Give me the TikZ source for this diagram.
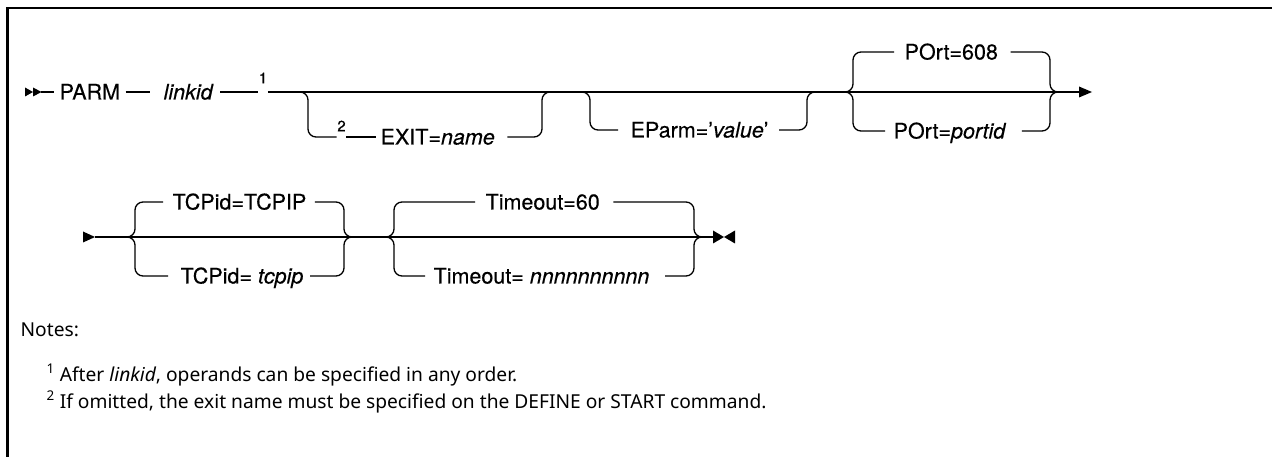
\documentclass[tikz,border=0pt]{standalone}
\usepackage{fontspec}
\setmainfont{TeX Gyre Heros}[FakeBold=0.4]
\newfontfamily\notefont{Noto Sans}
\usetikzlibrary{calc}
\begin{document}
\begin{tikzpicture}[x=1pt,y=-1pt,line width=1.3pt,
  txt/.style={inner sep=0pt,text height=15pt,text depth=0pt,anchor=west,font=\fontsize{21.5}{25}\selectfont},
  supn/.style={inner sep=0pt,anchor=center,font=\fontsize{15}{17}\selectfont},
  note/.style={inner sep=0pt,anchor=west,font=\notefont\fontsize{19.2}{23}\selectfont},
  rail/.style={line width=1.3pt,rounded corners=8pt},
  frameline/.style={line width=2.6pt}]
\useasboundingbox (0,0) rectangle (1272,457);
% frame
\coordinate (fA) at (7.5,457);
\coordinate (fB) at (7.5,8);
\coordinate (fC) at (1272,8);
\draw[frameline] (fA) -- (fB) -- (fC);

% ---------- row 1 ----------
\fill (25,87.5) -- (33,92) -- (25,96.5) -- cycle;
\fill (33,87.5) -- (41.5,92) -- (33,96.5) -- cycle;
\node[txt] (parm) at (59,92) {PARM};
\node[txt] (linkid) at (163,92) {\itshape linkid};
\node[supn] (n1) at (263,78) {1};
\draw (41,92) -- ([xshift=-5pt]parm.west);
\draw ([xshift=5pt]parm.east) -- ([xshift=-13pt]linkid.west);
\draw ([xshift=7pt]linkid.east) -- (n1.west |- linkid.west);
\coordinate (a1) at (1080,92);
\draw (n1.east |- linkid.west) -- (a1);
\fill (1079,86.5) -- (1092,92) -- (1079,97.5) -- cycle;

% EXIT branch
\node[supn] (n2) at (341.5,126) {2};
\node[txt] (exit) at (380,137) {EXIT=\textit{name}};
\draw[rail] (300,92) -- (308,92) -- (308,137) -- (n2.west |- exit.west);
\draw (n2.east |- exit.west) -- ([xshift=-4pt]exit.west);
\draw[rail] ([xshift=12pt]exit.east) -- (542,137) -- (542,92) -- (550,92);

% EParm branch
\node[txt] (eparm) at (630,130) {EParm='\textit{value}'};
\draw[rail] (582,92) -- (590,92) -- (590,130) -- ([xshift=-12pt]eparm.west);
\draw[rail] ([xshift=10pt]eparm.east) -- (807,130) -- (807,92) -- (815,92);

% POrt choice
\node[txt] (p608) at (904,52) {POrt=608};
\node[txt] (pid) at (893,131) {POrt=\textit{portid}};
\draw[rail] (845,92) -- (853,92) -- (853,52) -- ([xshift=-10pt]p608.west);
\draw[rail] (845,92) -- (853,92) -- (853,131) -- ([xshift=-8pt]pid.west);
\draw[rail] ([xshift=12pt]p608.east) -- (1050,52) -- (1050,92) -- (1058,92);
\draw[rail] ([xshift=15pt]pid.east) -- (1050,131) -- (1050,92) -- (1058,92);

% ---------- row 2 ----------
\fill (83,231.5) -- (95,237) -- (83,242.5) -- cycle;
\coordinate (s2) at (95,237);
\node[txt] (tcp1) at (172,202) {TCPid=TCPIP};
\node[txt] (tcp2) at (180,276) {TCPid= \textit{tcpip}};
\draw (s2) -- (700,237);
\draw[rail] (128,237) -- (135,237) -- (135,202) -- ([xshift=-9pt]tcp1.west);
\draw[rail] (128,237) -- (135,237) -- (135,276) -- ([xshift=-12pt]tcp2.west);
\draw[rail] ([xshift=8pt]tcp1.east) -- (344,202) -- (344,237) -- (351,237);
\draw[rail] ([xshift=6pt]tcp2.east) -- (344,276) -- (344,237) -- (351,237);

\node[txt] (to1) at (485,202) {Timeout=60};
\node[txt] (to2) at (433,276) {Timeout= \textit{nnnnnnnnnn}};
\draw[rail] (387,237) -- (394,237) -- (394,202) -- ([xshift=-10pt]to1.west);
\draw[rail] (387,237) -- (394,237) -- (394,276) -- ([xshift=-8pt]to2.west);
\draw[rail] ([xshift=13pt]to1.east) -- (694,202) -- (694,237) -- (701,237);
\draw[rail] ([xshift=15pt]to2.east) -- (694,276) -- (694,237) -- (701,237);
\coordinate (e2) at (713,237);
\draw (700,237) -- (e2);
\fill (713,230.5) -- (724,237) -- (713,243.5) -- cycle;
\fill (735,230.5) -- (724,237) -- (735,243.5) -- cycle;

% ---------- notes ----------
\node[note] (notes) at (20,330) {Notes:};
\node[note] (note1) at (46,375) {\textsuperscript{1} After \textit{linkid}, operands can be specified in any order.};
\node[note] (note2) at (46,402) {\textsuperscript{2} If omitted, the exit name must be specified on the DEFINE or START command.};
\end{tikzpicture}
\end{document}
